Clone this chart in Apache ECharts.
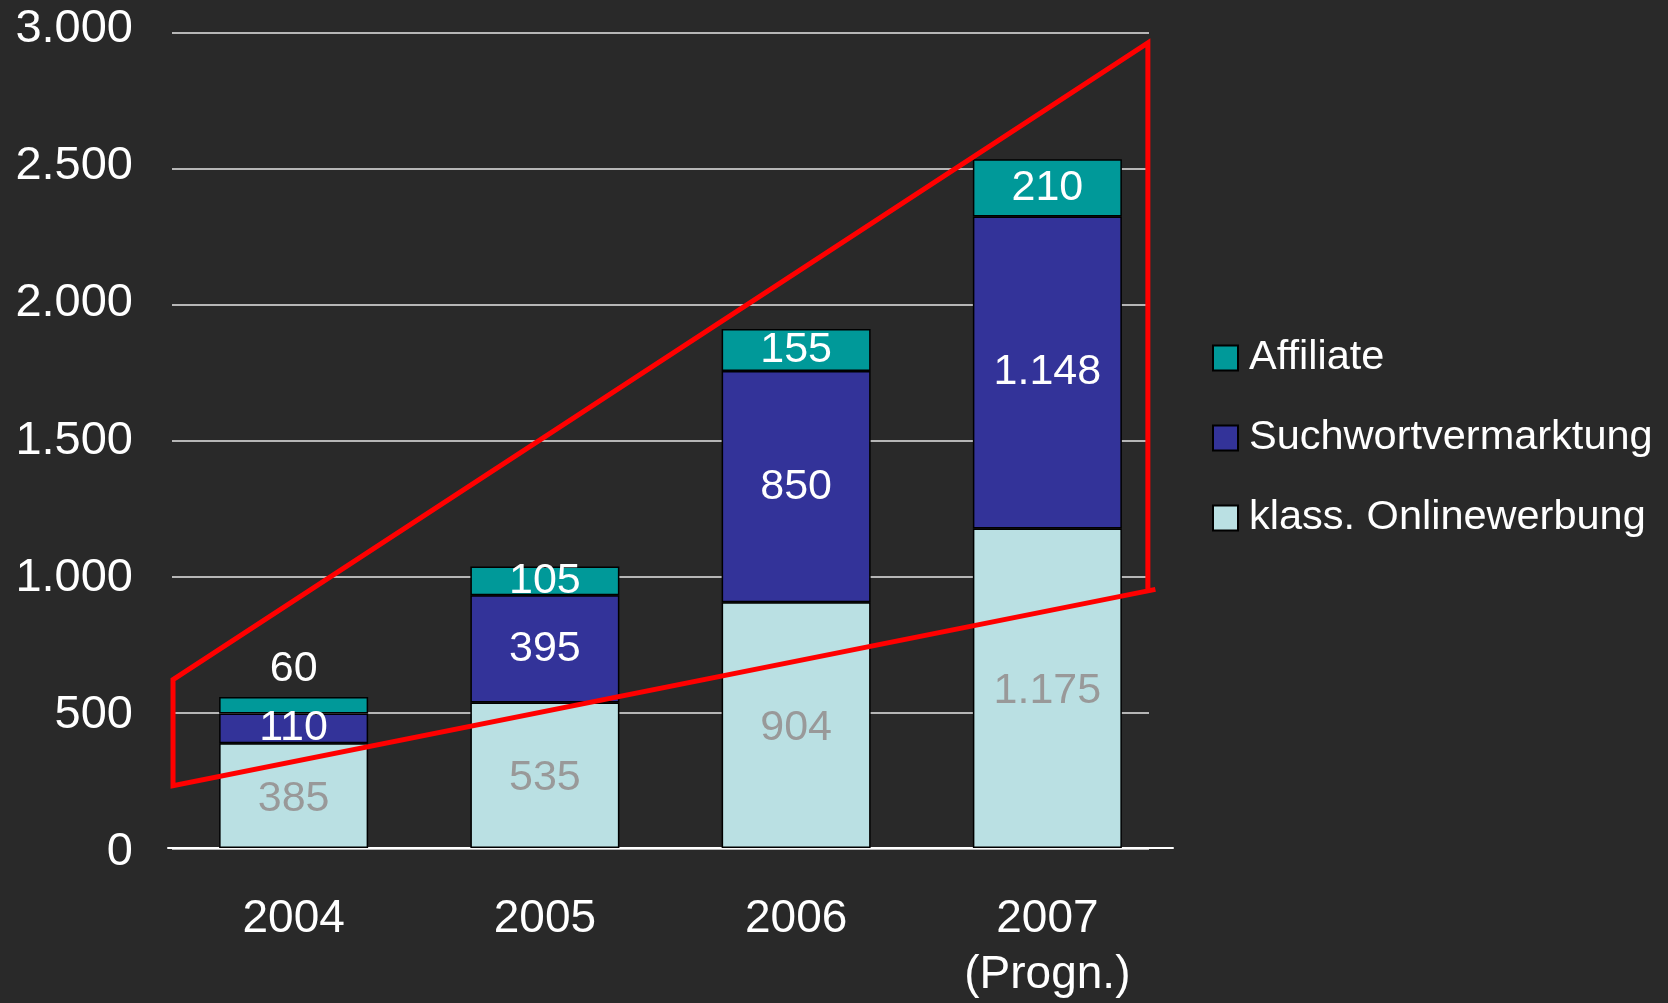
<!DOCTYPE html>
<html>
<head>
<meta charset="utf-8">
<script src="https://cdn.jsdelivr.net/npm/echarts@6/dist/echarts.min.js"></script>
<style>
html,body{margin:0;padding:0;background:#292929;}
#c{width:1668px;height:1003px;}
</style>
</head>
<body>
<div id="c"></div>
<script>
// ---- data ----
const categories = ['2004', '2005', '2006', '2007\n(Progn.)'];
const klassOnline = [385, 535, 904, 1175];
const suchwort = [110, 395, 850, 1148];
const affiliate = [60, 105, 155, 210];
const yTicks = [0, 500, 1000, 1500, 2000, 2500, 3000];
// red annotation outline: [category position, value]
const trendShape = [[3.43, 951], [-0.48, 229], [-0.48, 619], [3.40, 2961], [3.40, 944]];

const FONT = '"Liberation Sans", Arial, sans-serif';
const fmt = v => String(v).replace(/\B(?=(\d{3})+(?!\d))/g, '.');
const yMin = yTicks[0], yMax = yTicks[yTicks.length - 1];

const chart = echarts.init(document.getElementById('c'), null, {renderer: 'canvas'});

const barBase = {
  type: 'bar', stack: 'total', xAxisIndex: 0, yAxisIndex: 0,
  barWidth: 149
};
const lbl = (color, extra) => Object.assign({
  show: true, position: 'inside', color: color, fontSize: 43, fontFamily: FONT,
  formatter: p => fmt(p.value)
}, extra || {});

const option = {
  backgroundColor: '#292929',
  animation: false,
  grid: [
    {left: 168, right: 495, top: 32.3, bottom: 154.7},
    {left: 172, right: 519, top: 32.3, bottom: 154.7},
    {left: 168, right: 495, top: 29, bottom: 150.7}
  ],
  legend: {
    data: ['Affiliate', 'Suchwortvermarktung', 'klass. Onlinewerbung'],
    orient: 'vertical', left: 1207, top: 332,
    itemWidth: 25, itemHeight: 25, itemGap: 38,
    icon: 'rect',
    textStyle: {color: '#fff', fontSize: 41.5, fontFamily: FONT, padding: [0, 0, 0, 6]}
  },
  xAxis: [
    {type: 'category', gridIndex: 0, data: categories,
     axisLine: {lineStyle: {color: '#fff', width: 2}}, axisTick: {show: false},
     axisLabel: {color: '#fff', fontSize: 46, fontFamily: FONT, lineHeight: 56, margin: 43}},
    {type: 'value', gridIndex: 0, min: -0.5, max: 3.5, show: false},
    {type: 'value', gridIndex: 1, min: 0, max: 1, show: false},
    {type: 'value', gridIndex: 2, min: 0, max: 1, show: false}
  ],
  yAxis: [
    {type: 'value', gridIndex: 0, min: yMin, max: yMax, interval: 500, show: true,
     axisLine: {show: false}, axisTick: {show: false}, splitLine: {show: false}, axisLabel: {show: false}},
    {type: 'value', gridIndex: 1, min: yMin, max: yMax, interval: 500,
     axisLine: {show: false}, axisTick: {show: false}, axisLabel: {show: false},
     splitLine: {lineStyle: {color: '#e6e6e6', width: 1.5}}},
    {type: 'value', gridIndex: 2, min: yMin, max: yMax, interval: 500,
     axisLine: {show: false}, axisTick: {show: false}, splitLine: {show: false},
     axisLabel: {color: '#fff', fontSize: 47, fontFamily: FONT, margin: 35, formatter: v => fmt(v)}}
  ],
  series: [
    Object.assign({}, barBase, {
      name: 'klass. Onlinewerbung', data: klassOnline,
      itemStyle: {color: '#BAE0E3', borderColor: '#000', borderWidth: 1.5},
      label: lbl('#999999', {offset: [0, 3]})
    }),
    Object.assign({}, barBase, {
      name: 'Suchwortvermarktung', data: suchwort,
      itemStyle: {color: '#333399', borderColor: '#000', borderWidth: 1.5},
      label: lbl('#ffffff')
    }),
    Object.assign({}, barBase, {
      name: 'Affiliate',
      data: affiliate.map((v, i) => i === 0 ? {value: v, label: {position: 'top', distance: 6}} : v),
      itemStyle: {color: '#009999', borderColor: '#000', borderWidth: 1.5},
      label: lbl('#ffffff')
    }),
    {
      type: 'line', name: 'trend', xAxisIndex: 1, yAxisIndex: 0,
      data: trendShape, symbol: 'none', z: 10, clip: false,
      lineStyle: {color: '#ff0000', width: 5, join: 'miter'}
    }
  ]
};
chart.setOption(option);
</script>
</body>
</html>
